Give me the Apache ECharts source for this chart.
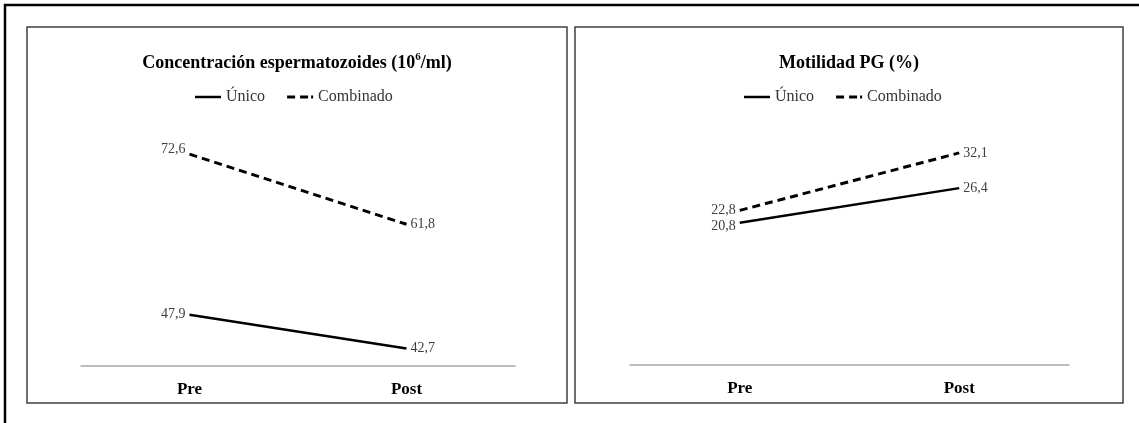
<!DOCTYPE html>
<html>
<head>
<meta charset="utf-8">
<script src="https://cdn.jsdelivr.net/npm/echarts@6/dist/echarts.min.js"></script>
<style>
html,body{margin:0;padding:0;background:#fff;}
#c{width:1139px;height:423px;}
</style>
</head>
<body>
<div id="c"></div>
<script>
// ---- data ----
const categories = ['Pre', 'Post'];
const seriesNames = ['Único', 'Combinado'];
const concUnico = [47.9, 42.7];
const concCombinado = [72.6, 61.8];
const motUnico = [20.8, 26.4];
const motCombinado = [22.8, 32.1];
const titleConc = '{a|Concentración espermatozoides (10}{s|6}{a|/ml)}';
const titleMot = 'Motilidad PG (%)';

const FONT = "'Liberation Serif', 'Times New Roman', serif";
const fmt = p => String(p.value).replace('.', ',');

function mkData(vals, firstOffset) {
  return vals.map((v, i) => ({
    value: v,
    label: { position: i === 0 ? 'left' : 'right', offset: i === 0 ? firstOffset : [0, 0] }
  }));
}

function mkSeries(name, vals, idx, dashed, firstOffset) {
  return {
    name: name,
    type: 'line',
    xAxisIndex: idx, yAxisIndex: idx,
    data: mkData(vals, firstOffset),
    symbol: 'circle',
    symbolSize: 0,
    showSymbol: true,
    silent: true,
    lineStyle: { color: '#000', width: dashed ? 3 : 2.5, type: dashed ? [8, 5] : 'solid' },
    itemStyle: { color: '#000' },
    label: {
      show: true, distance: 4, formatter: fmt,
      fontFamily: FONT, fontSize: 14, color: '#404040'
    },
    animation: false
  };
}

const chart = echarts.init(document.getElementById('c'), null, { renderer: 'canvas' });

const xAxisBase = {
  type: 'category', data: categories, boundaryGap: true,
  axisLine: { onZero: false, lineStyle: { color: '#a6a6a6', width: 1.5 } },
  axisTick: { show: false },
  axisLabel: { fontFamily: FONT, fontSize: 17, fontWeight: 'bold', color: '#000', margin: 15 },
  splitLine: { show: false }
};

const legendIcons = [
  'path://M0,0H26V2.5H0Z',
  'path://M0,0H8V3H0Z M13,0H21V3H13Z M24,0H26V3H24Z'
];

const legendBase = {
  orient: 'horizontal', top: 89, padding: 0,
  itemWidth: 26, itemHeight: 3, itemGap: 22, itemTextGap: 2,
  textStyle: { fontFamily: FONT, fontSize: 16, color: '#333' },
  data: seriesNames.map((n, i) => ({ name: n, icon: legendIcons[i] })),
  selectedMode: false
};

chart.setOption({
  backgroundColor: '#fff',
  animation: false,
  graphic: [
    { type: 'polyline', shape: { points: [[5, 423], [5, 5], [1139, 5]] }, style: { stroke: '#000', lineWidth: 2.5, fill: null }, silent: true },
    { type: 'rect', shape: { x: 27, y: 27, width: 540, height: 376 }, style: { stroke: '#404040', lineWidth: 1.5, fill: null }, silent: true },
    { type: 'rect', shape: { x: 575, y: 27, width: 548, height: 376 }, style: { stroke: '#404040', lineWidth: 1.5, fill: null }, silent: true }
  ],
  title: [
    {
      text: titleConc, left: 297, top: 52, padding: 0, textAlign: 'center',
      textStyle: {
        fontFamily: FONT, fontSize: 18, fontWeight: 'bold', color: '#000',
        rich: {
          a: { fontFamily: FONT, fontSize: 18, fontWeight: 'bold', color: '#000', lineHeight: 22 },
          s: { fontFamily: FONT, fontSize: 11, fontWeight: 'bold', color: '#000', verticalAlign: 'top', lineHeight: 22, padding: [0, 0, 8, 0] }
        }
      }
    },
    {
      text: titleMot, left: 849, top: 52, padding: 0, textAlign: 'center',
      textStyle: { fontFamily: FONT, fontSize: 18, fontWeight: 'bold', color: '#000', lineHeight: 22 }
    }
  ],
  legend: [
    Object.assign({}, legendBase, { left: 195 }),
    Object.assign({}, legendBase, { left: 744 })
  ],
  grid: [
    { left: 81, right: 624, top: 106, bottom: 57, containLabel: false },
    { left: 630, right: 70, top: 130, bottom: 58, containLabel: false }
  ],
  xAxis: [
    Object.assign({}, xAxisBase, { gridIndex: 0 }),
    Object.assign({}, xAxisBase, { gridIndex: 1 })
  ],
  yAxis: [
    { type: 'value', gridIndex: 0, min: 40, max: 80, show: false, splitLine: { show: false } },
    { type: 'value', gridIndex: 1, min: -2.2, max: 35.8, show: false, splitLine: { show: false } }
  ],
  series: [
    mkSeries(seriesNames[0], concUnico, 0, false, [0, 0]),
    mkSeries(seriesNames[1], concCombinado, 0, true, [0, -5]),
    mkSeries(seriesNames[0], motUnico, 1, false, [0, 4]),
    mkSeries(seriesNames[1], motCombinado, 1, true, [0, 0])
  ]
});
</script>
</body>
</html>
